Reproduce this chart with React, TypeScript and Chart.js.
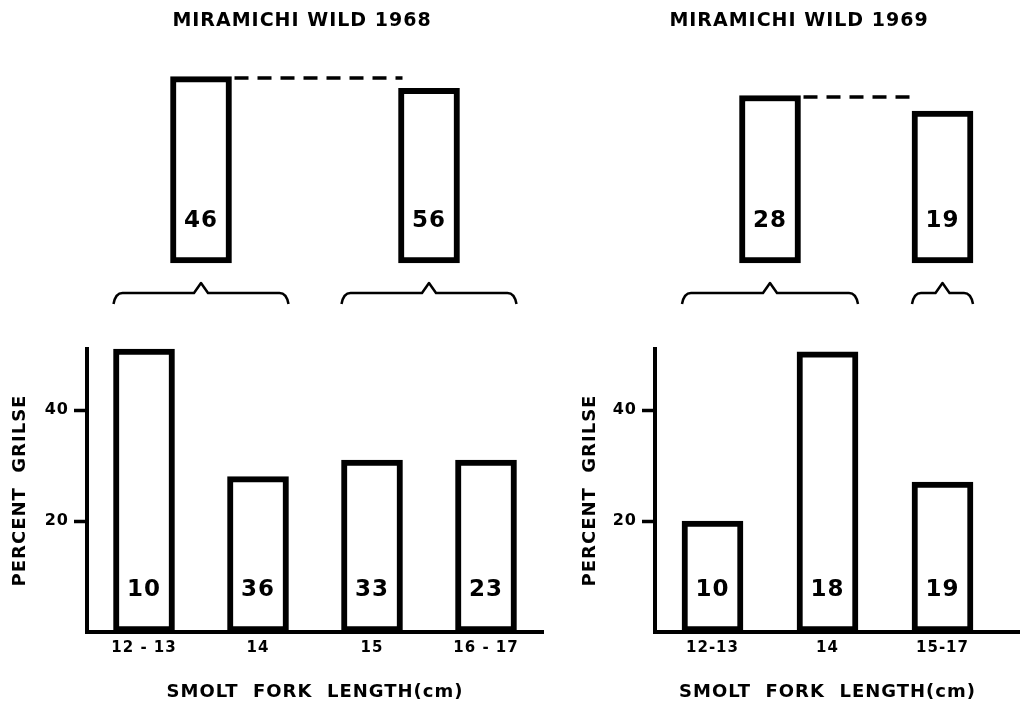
import { useEffect, useRef } from "react";
import { Chart, registerables } from "chart.js";

Chart.register(...registerables);

const FONT = "'DejaVu Sans', 'Liberation Sans', sans-serif";

// ---------- data: Miramichi wild 1968 ----------
const categories1968 = ["12 - 13", "14", "15", "16 - 17"];
const percentGrilse1968 = [51, 28, 31, 31];
const sampleSize1968 = [10, 36, 33, 23];
const groups1968 = [[0, 1], [2, 3]]; // category indices pooled into each upper bar
const pooledPercent1968 = [33.6, 31.5];

// ---------- data: Miramichi wild 1969 ----------
const categories1969 = ["12-13", "14", "15-17"];
const percentGrilse1969 = [20, 50.5, 27];
const sampleSize1969 = [10, 18, 19];
const groups1969 = [[0, 1], [2, 2]];
const pooledPercent1969 = [30.2, 27.4];

const yTicks = [20, 40];
const Y_MAX = 51;
const UPPER_Y_MAX = 39.3;

const titles = ["MIRAMICHI WILD 1968", "MIRAMICHI WILD 1969"];
const xTitle = "SMOLT  FORK  LENGTH(cm)";
const yTitle = "PERCENT  GRILSE";

// ---------- styling / layout ----------
const BAR_W = 61;
const UPPER_H = 320;
const LOWER_H = 384;

const panels = [
  { left: 0, width: 548, axisWidth: 87, padRight: 5, yTitlePad: 10, titleX: 302, extend: false },
  { left: 548, width: 472, axisWidth: 107, padRight: 20, yTitlePad: 32, titleX: 251, extend: true },
];

const spacingPlugin = {
  id: "spacing",
  beforeUpdate(chart: any) {
    chart.ctx.letterSpacing = "1px";
  },
  beforeDraw(chart: any) {
    chart.ctx.letterSpacing = "1px";
  },
};

const barNumbers = {
  id: "barNumbers",
  afterDatasetsDraw(chart: any, _args: any, opts: any) {
    const labels = opts.labels;
    if (!labels) return;
    const meta = chart.getDatasetMeta(0);
    const ctx = chart.ctx;
    const base = chart.scales.y.getPixelForValue(0);
    ctx.save();
    ctx.fillStyle = "#000";
    ctx.font = `bold 23px ${FONT}`;
    ctx.textAlign = "center";
    ctx.textBaseline = "middle";
    meta.data.forEach((el: any, i: number) => {
      ctx.fillText(String(labels[i]), el.x, base - 42);
    });
    ctx.restore();
  },
};

const upperDecor = {
  id: "upperDecor",
  afterDatasetsDraw(chart: any, _args: any, opts: any) {
    const ctx = chart.ctx;
    const xs = chart.scales.x;
    const meta = chart.getDatasetMeta(0);
    const half = BAR_W / 2;
    const b0 = meta.data[0];
    const b1 = meta.data[1];
    ctx.save();
    ctx.strokeStyle = "#000";
    ctx.fillStyle = "#000";
    // dashed reference line from the top of the first pooled bar
    ctx.lineWidth = 3.5;
    ctx.setLineDash([14, 9]);
    ctx.beginPath();
    ctx.moveTo(b0.x + half + 3, b0.y + 1.5);
    ctx.lineTo(b1.x - half + 4, b0.y + 1.5);
    ctx.stroke();
    ctx.setLineDash([]);
    // braces
    const yb = chart.chartArea.bottom + 30;
    ctx.lineWidth = 2.5;
    ctx.lineJoin = "round";
    opts.groups.forEach((g: number[]) => {
      const xl = xs.getPixelForValue(g[0]) - half;
      const xr = xs.getPixelForValue(g[1]) + half;
      const mid = xs.getPixelForValue((g[0] + g[1]) / 2);
      ctx.beginPath();
      ctx.moveTo(xl, yb + 11);
      ctx.quadraticCurveTo(xl + 2, yb, xl + 9, yb);
      ctx.lineTo(mid - 7, yb);
      ctx.lineTo(mid, yb - 10);
      ctx.lineTo(mid + 7, yb);
      ctx.lineTo(xr - 9, yb);
      ctx.quadraticCurveTo(xr - 2, yb, xr, yb + 11);
      ctx.stroke();
    });
    // panel title
    ctx.font = `bold 19px ${FONT}`;
    ctx.textAlign = "center";
    ctx.textBaseline = "middle";
    ctx.fillText(opts.title, opts.titleX, 21);
    ctx.restore();
  },
};

const baselineExtend = {
  id: "baselineExtend",
  afterDraw(chart: any, _args: any, opts: any) {
    if (!opts.extend) return;
    const ctx = chart.ctx;
    const y = chart.chartArea.bottom;
    ctx.save();
    ctx.strokeStyle = "#000";
    ctx.lineWidth = 4;
    ctx.beginPath();
    ctx.moveTo(chart.chartArea.right - 2, y);
    ctx.lineTo(chart.width, y);
    ctx.stroke();
    ctx.restore();
  },
};

function makeUpper(canvas: HTMLCanvasElement, p: any, groups: number[][], pooled: number[], samples: number[], nCats: number, title: string) {
  const pooledN = groups.map((g) => {
    let s = 0;
    for (let i = g[0]; i <= g[1]; i++) s += samples[i];
    return s;
  });
  return new Chart(canvas, {
    type: "bar",
    data: {
      datasets: [
        {
          data: groups.map((g, i) => ({ x: (g[0] + g[1]) / 2, y: pooled[i] })),
          backgroundColor: "#fff",
          borderColor: "#000",
          borderWidth: 6,
          borderSkipped: false,
          barThickness: BAR_W,
          clip: false as any,
        },
      ],
    },
    options: {
      animation: false,
      responsive: false,
      layout: { padding: { left: p.axisWidth, right: p.padRight, top: 45, bottom: UPPER_H - 263 } },
      scales: {
        x: { type: "linear", min: -0.5, max: nCats - 0.5, offset: false, display: false },
        y: { type: "linear", min: 0, max: UPPER_Y_MAX, display: false },
      },
      plugins: {
        legend: { display: false },
        tooltip: { enabled: false },
        barNumbers: { labels: pooledN },
        upperDecor: { groups, title, titleX: p.titleX },
      } as any,
    },
    plugins: [spacingPlugin, barNumbers, upperDecor],
  } as any);
}

function makeLower(canvas: HTMLCanvasElement, p: any, cats: string[], values: number[], samples: number[]) {
  return new Chart(canvas, {
    type: "bar",
    data: {
      labels: cats,
      datasets: [
        {
          data: values,
          backgroundColor: "#fff",
          borderColor: "#000",
          borderWidth: 6,
          borderSkipped: false,
          barThickness: BAR_W,
          clip: false as any,
        },
      ],
    },
    options: {
      animation: false,
      responsive: false,
      layout: { padding: { left: 0, right: p.padRight, top: 29, bottom: 0 } },
      scales: {
        x: {
          type: "category",
          offset: true,
          grid: { display: true, drawOnChartArea: false, drawTicks: false },
          border: { display: true, width: 4, color: "#000" },
          ticks: { color: "#000", font: { family: FONT, size: 15, weight: "bold" }, padding: 7, maxRotation: 0 },
          title: {
            display: true,
            text: xTitle,
            color: "#000",
            font: { family: FONT, size: 18, weight: "bold" },
            padding: { top: 0, bottom: 1 },
          },
          afterFit: (s: any) => {
            s.height = 72;
          },
        },
        y: {
          type: "linear",
          min: 0,
          max: Y_MAX,
          afterBuildTicks: (s: any) => {
            s.ticks = yTicks.map((v) => ({ value: v }));
          },
          grid: { display: true, drawOnChartArea: false, drawTicks: true, tickLength: 13, tickWidth: 3.5, tickColor: "#000" },
          border: { display: true, width: 4, color: "#000" },
          ticks: { color: "#000", font: { family: FONT, size: 16, weight: "bold" }, padding: 5 },
          title: {
            display: true,
            text: yTitle,
            color: "#000",
            font: { family: FONT, size: 18, weight: "bold" },
            padding: { top: p.yTitlePad, bottom: 0 },
          },
          afterFit: (s: any) => {
            s.width = p.axisWidth;
          },
        },
      },
      plugins: {
        legend: { display: false },
        tooltip: { enabled: false },
        barNumbers: { labels: samples },
        baselineExtend: { extend: p.extend },
      } as any,
    },
    plugins: [spacingPlugin, barNumbers, baselineExtend],
  } as any);
}

export default function App() {
  const u1 = useRef<HTMLCanvasElement>(null);
  const l1 = useRef<HTMLCanvasElement>(null);
  const u2 = useRef<HTMLCanvasElement>(null);
  const l2 = useRef<HTMLCanvasElement>(null);

  useEffect(() => {
    Chart.defaults.font.family = FONT;
    Chart.defaults.color = "#000";
    const charts = [
      makeUpper(u1.current!, panels[0], groups1968, pooledPercent1968, sampleSize1968, categories1968.length, titles[0]),
      makeLower(l1.current!, panels[0], categories1968, percentGrilse1968, sampleSize1968),
      makeUpper(u2.current!, panels[1], groups1969, pooledPercent1969, sampleSize1969, categories1969.length, titles[1]),
      makeLower(l2.current!, panels[1], categories1969, percentGrilse1969, sampleSize1969),
    ];
    return () => charts.forEach((c) => c.destroy());
  }, []);

  const cv = (ref: any, p: any, top: number, h: number) => (
    <canvas
      ref={ref}
      width={p.width}
      height={h}
      style={{ position: "absolute", left: p.left, top, width: p.width, height: h }}
    />
  );

  return (
    <div style={{ position: "fixed", left: 0, top: 0, width: 1020, height: 704, background: "#fff", overflow: "hidden" }}>
      {cv(u1, panels[0], 0, UPPER_H)}
      {cv(l1, panels[0], UPPER_H, LOWER_H)}
      {cv(u2, panels[1], 0, UPPER_H)}
      {cv(l2, panels[1], UPPER_H, LOWER_H)}
    </div>
  );
}
